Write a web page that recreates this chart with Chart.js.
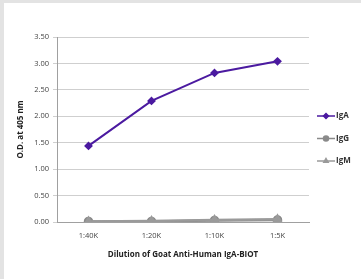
<!DOCTYPE html>
<html>
<head>
<meta charset="utf-8">
<script src="https://cdn.jsdelivr.net/npm/chart.js@4"></script>
<style>
  html, body { margin: 0; padding: 0; background: #e3e3e3; }
  #wrap { position: absolute; left: 4px; top: 3px; width: 357px; height: 276px; background: #fff; }
</style>
</head>
<body>
<div id="wrap"><canvas id="odChart" width="357" height="276"></canvas></div>
<script>
const dilutions = ['1:40K', '1:20K', '1:10K', '1:5K'];
const igA = [1.44, 2.29, 2.82, 3.04];
const igG = [0.01, 0.01, 0.03, 0.04];
const igM = [0.01, 0.02, 0.04, 0.05];
const yTicks = [0, 0.5, 1, 1.5, 2, 2.5, 3, 3.5];
const legendOrder = ['IgA', 'IgG', 'IgM'];

const fontFamily = '"Open Sans", "Liberation Sans", sans-serif';

// legend drawn by hand: short line with marker in the middle, label to the right
const sideLegend = {
    id: 'sideLegend',
    afterDraw(chart) {
        const c = chart.ctx;
        const x0 = 313, startY = 113, gap = 22.5;
        legendOrder.forEach((name, i) => {
            const ds = chart.data.datasets.find(d => d.label === name);
            const y = startY + i * gap;
            c.save();
            c.strokeStyle = ds.borderColor;
            c.lineWidth = 1.5;
            c.beginPath();
            c.moveTo(x0, y);
            c.lineTo(x0 + 18, y);
            c.stroke();
            c.fillStyle = ds.borderColor;
            Chart.helpers.drawPoint(c, {
                pointStyle: ds.pointStyle,
                radius: 2.5,
                borderWidth: 1
            }, x0 + 9, y);
            c.fillStyle = '#333';
            c.font = 'bold 8px ' + fontFamily;
            c.textBaseline = 'middle';
            c.fillText(name, x0 + 19, y);
            c.restore();
        });
    }
};

new Chart(document.getElementById('odChart'), {
    type: 'line',
    data: {
        labels: dilutions,
        datasets: [
            {
                label: 'IgA',
                data: igA,
                borderColor: '#4b1aa0',
                backgroundColor: '#4b1aa0',
                borderWidth: 2,
                pointStyle: 'rectRot',
                pointRadius: 3,
                order: 0
            },
            {
                label: 'IgG',
                data: igG,
                borderColor: '#8a8a8a',
                backgroundColor: '#8a8a8a',
                borderWidth: 2.5,
                pointStyle: 'circle',
                pointRadius: 3.5,
                order: 2
            },
            {
                label: 'IgM',
                data: igM,
                borderColor: '#9a9a9a',
                backgroundColor: '#9a9a9a',
                borderWidth: 2.5,
                pointStyle: 'triangle',
                pointRadius: 3.5,
                order: 1
            }
        ]
    },
    options: {
        responsive: false,
        animation: false,
        layout: { padding: { left: 8, right: 52, top: 34, bottom: 19 } },
        plugins: {
            legend: { display: false },
            tooltip: { enabled: false }
        },
        scales: {
            x: {
                offset: true,
                grid: { display: false },
                border: { color: '#a0a0a0' },
                ticks: { color: '#444', font: { family: fontFamily, size: 7.5 }, padding: 1 },
                title: {
                    display: true,
                    text: 'Dilution of Goat Anti-Human IgA-BIOT',
                    color: '#222',
                    font: { family: fontFamily, size: 8, weight: 'bold' },
                    padding: { top: 6, bottom: 0 }
                },
                afterFit(scale) { scale.height = 38; }
            },
            y: {
                min: 0,
                max: 3.5,
                afterBuildTicks(scale) { scale.ticks = yTicks.map(v => ({ value: v })); },
                grid: { color: '#cfcfcf', tickLength: 4 },
                border: { color: '#a0a0a0' },
                ticks: {
                    color: '#444',
                    font: { family: fontFamily, size: 7.5 },
                    padding: 4,
                    callback: v => v.toFixed(2)
                },
                title: {
                    display: true,
                    text: 'O.D. at 405 nm',
                    color: '#222',
                    font: { family: fontFamily, size: 8, weight: 'bold' }
                },
                afterFit(scale) { scale.width = 45; }
            }
        }
    },
    plugins: [sideLegend]
});
</script>
</body>
</html>
